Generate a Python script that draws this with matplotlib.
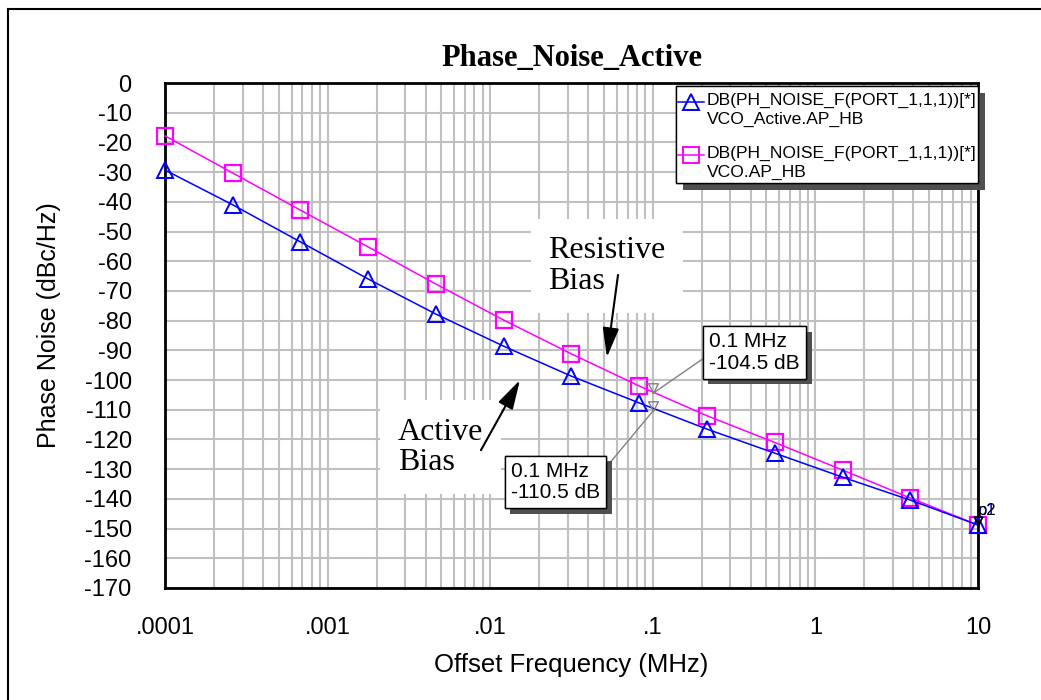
import numpy as np
import matplotlib
matplotlib.use("Agg")
import matplotlib.pyplot as plt
import matplotlib.patheffects as pe
from matplotlib.path import Path
from matplotlib.patches import Rectangle
from matplotlib.ticker import FixedLocator, NullFormatter

# frequencies of the plotted markers (MHz), 12 steps over 5 decades
freq = [1e-4, 2.61e-4, 6.81e-4, 1.78e-3, 4.64e-3, 1.21e-2, 3.16e-2,
        8.25e-2, 0.215, 0.562, 1.47, 3.83, 10.0]
active = [-29.3, -41.0, -53.5, -66.0, -77.8, -88.6, -98.7,
          -107.7, -116.5, -124.6, -132.7, -140.4, -148.8]
resistive = [-17.8, -30.3, -42.8, -55.2, -67.7, -79.8, -91.2,
             -102.0, -112.0, -121.0, -130.3, -139.7, -148.8]

mark_f = 0.1
mark_res = -104.5
mark_act = -110.5

xticks = [1e-4, 1e-3, 1e-2, 1e-1, 1, 10]
xlabels = [".0001", ".001", ".01", ".1", "1", "10"]
yticks = list(range(0, -171, -10))
ylabels = [str(v) for v in yticks]

leg_lines = [["DB(PH_NOISE_F(PORT_1,1,1))[*]", "VCO_Active.AP_HB"],
             ["DB(PH_NOISE_F(PORT_1,1,1))[*]", "VCO.AP_HB"]]

plt.rcParams['font.family'] = ['Liberation Sans', 'DejaVu Sans']
serif = ['Liberation Serif', 'DejaVu Serif']
shadow = [pe.withSimplePatchShadow(offset=(4, -4), shadow_rgbFace='#505050', alpha=1.0),
          pe.Normal()]

fig = plt.figure(figsize=(10.41, 7), dpi=100)
ax = fig.add_axes([0.1585, 0.16, 0.781, 0.7214])

# frame around the picture (top and left only)
fig.add_artist(plt.Line2D([0.0077, 0.0077], [0, 0.987], color='black', lw=1.5,
                          transform=fig.transFigure))
fig.add_artist(plt.Line2D([0.0077, 1.0], [0.987, 0.987], color='black', lw=1.5,
                          transform=fig.transFigure))

blue_style = dict(color='blue', lw=1.1, marker='^', ms=12, mfc='none', mec='blue', mew=1.4)
pink_style = dict(color='#ff00ff', lw=1.1, marker='s', ms=12, mfc='none', mec='#ff00ff', mew=1.6)

ax.plot(freq, active, zorder=4, clip_on=False, **blue_style)
ax.plot(freq, resistive, zorder=3, clip_on=False, **pink_style)

# downward triangle markers with apex on the point
tri = Path([(-0.5, 1.0), (0.5, 1.0), (0.0, 0.0), (-0.5, 1.0)],
           [Path.MOVETO, Path.LINETO, Path.LINETO, Path.CLOSEPOLY])
ax.plot([mark_f, mark_f], [mark_res, mark_act], ls='none', marker=tri, ms=14,
        mfc='none', mec='gray', mew=1.0, zorder=5)
ax.plot([freq[-1], freq[-1]], [resistive[-1], active[-1]], ls='none', marker=tri,
        ms=12, mfc='none', mec='black', mew=1.0, zorder=5, clip_on=False)
ax.text(freq[-1], -144.0, "p1", color='blue', fontsize=12, ha='left', va='center')
ax.text(freq[-1], -144.0, "p2", color='black', fontsize=12, ha='left', va='center')


def marker_box(xy, xytext, text, rel):
    t = ax.annotate(text, xy=xy, xytext=xytext, textcoords='data', fontsize=15,
                    ha='left', va='center', zorder=7, linespacing=1.15,
                    bbox=dict(boxstyle='square,pad=0.3', fc='white', ec='black', lw=1.0),
                    arrowprops=dict(arrowstyle='-', color='gray', lw=1.0,
                                    shrinkA=0, shrinkB=0, relpos=rel))
    t.get_bbox_patch().set_path_effects(shadow)


marker_box((mark_f, mark_res), (0.222, -90.7), "0.1 MHz\n-104.5 dB", (0.0, 0.45))
marker_box((mark_f, mark_act), (0.0134, -134.3), "0.1 MHz\n-110.5 dB", (1.0, 0.68))

# text labels with white background, arrows drawn on top
ax.text(0.0227, -61.6, "Resistive\nBias", fontsize=23, family=serif, ha='left',
        va='center', linespacing=1.05, zorder=6,
        bbox=dict(boxstyle='square,pad=0.55', fc='white', ec='none'))
ax.text(0.00271, -122.6, "Active\nBias", fontsize=23, family=serif, ha='left',
        va='center', linespacing=1.05, zorder=6,
        bbox=dict(boxstyle='square,pad=0.55', fc='white', ec='none'))
arrow = dict(arrowstyle='-|>,head_length=1.8,head_width=0.5', color='black',
             lw=1.5, shrinkA=0, shrinkB=0)
ax.annotate("", xy=(0.0522, -92.3), xytext=(0.0611, -64.6), arrowprops=arrow, zorder=8)
ax.annotate("", xy=(0.01524, -100.0), xytext=(0.00877, -123.6), arrowprops=arrow, zorder=8)

# legend box drawn by hand (handles sit on the first text line)
lb = Rectangle((0.6285, 0.802), 0.3715, 0.192, transform=ax.transAxes, fc='white',
               ec='black', lw=1.0, zorder=9, clip_on=False)
lb.set_path_effects([pe.withSimplePatchShadow(offset=(5, -5), shadow_rgbFace='#505050',
                                              alpha=1.0), pe.Normal()])
ax.add_patch(lb)
for i, (lines, st) in enumerate(zip(leg_lines, [blue_style, pink_style])):
    y0 = [0.966, 0.861][i]
    ax.plot([0.6315, 0.6635], [y0 - 0.004, y0 - 0.004], transform=ax.transAxes,
            zorder=10, clip_on=False, color=st['color'], lw=st['lw'])
    ax.plot([0.6475], [y0 - 0.004], transform=ax.transAxes, zorder=10, clip_on=False,
            ls='none', marker=st['marker'], ms=11, mfc='none', mec=st['mec'], mew=1.4)
    for j, s in enumerate(lines):
        ax.text(0.6665, y0 - j * 0.039, s, transform=ax.transAxes, fontsize=12.6,
                ha='left', va='center', zorder=10)

ax.set_xscale('log')
ax.set_xlim(1e-4, 10)
ax.set_ylim(-170, 0)
ax.set_xticks(xticks)
ax.set_xticklabels(xlabels)
ax.xaxis.set_minor_locator(FixedLocator(
    [m * 10.0 ** e for e in range(-4, 1) for m in range(2, 10)]))
ax.xaxis.set_minor_formatter(NullFormatter())
ax.set_yticks(yticks)
ax.set_yticklabels(ylabels)
ax.tick_params(which='both', length=0)
ax.tick_params(axis='y', pad=24, labelsize=17)
ax.tick_params(axis='x', pad=21, labelsize=17)
ax.grid(True, which='both', color='#c0c0c0', lw=1.5)
ax.set_axisbelow(True)
for s in ax.spines.values():
    s.set_linewidth(2.0)
    s.set_color('black')

ax.set_title("Phase_Noise_Active", family=serif, fontweight='bold', fontsize=22, pad=12)
ax.set_xlabel("Offset Frequency (MHz)", fontsize=18.5, labelpad=10)
ax.set_ylabel("Phase Noise (dBc/Hz)", fontsize=18)
ax.yaxis.set_label_coords(-0.128, 0.52)

fig.savefig("out.png", dpi=100)
